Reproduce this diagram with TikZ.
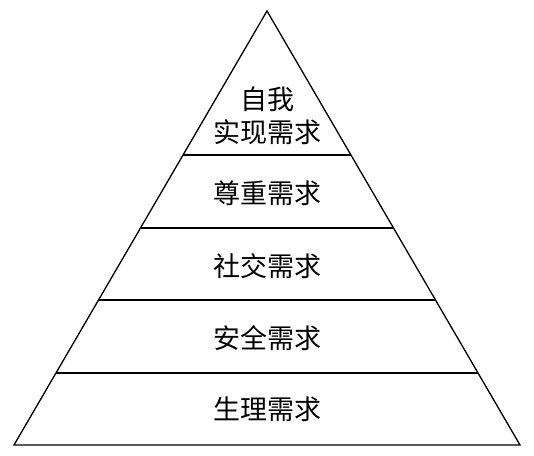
\documentclass[tikz,border=0pt]{standalone}
\usepackage{fontspec}
\newfontfamily\cjk{Noto Sans CJK SC}
\begin{document}
\begin{tikzpicture}[x=1bp,y=1bp]

        \useasboundingbox (0,0) rectangle (534,456);

        \coordinate (top) at (267,445);
        \coordinate (bl)  at (14,11);
        \coordinate (br)  at (520,11);

        \coordinate (l1) at (183.1,301);  \coordinate (r1) at (350.9,301);
        \coordinate (l2) at (140.5,228);  \coordinate (r2) at (393.5,228);
        \coordinate (l3) at (98.5,156);   \coordinate (r3) at (435.5,156);
        \coordinate (l4) at (56,83);      \coordinate (r4) at (478,83);

        \draw[line width=1.3bp, line join=miter] (bl) -- (top) -- (br) -- cycle;

        \begin{scope}[line width=2bp]
          \draw (l1) -- (r1);
          \draw (l2) -- (r2);
          \draw (l3) -- (r3);
          \draw (l4) -- (r4);
        \end{scope}

        \begin{scope}[every node/.style={align=center, font=\cjk\fontsize{27bp}{33bp}\selectfont}]
          \node (self)   at (267,340) {自我\\实现需求};
          \node (esteem) at (267,263) {尊重需求};
          \node (social) at (267,190) {社交需求};
          \node (safety) at (267,118) {安全需求};
          \node (phys)   at (267,47)  {生理需求};
        \end{scope}

      \end{tikzpicture}
\end{document}
